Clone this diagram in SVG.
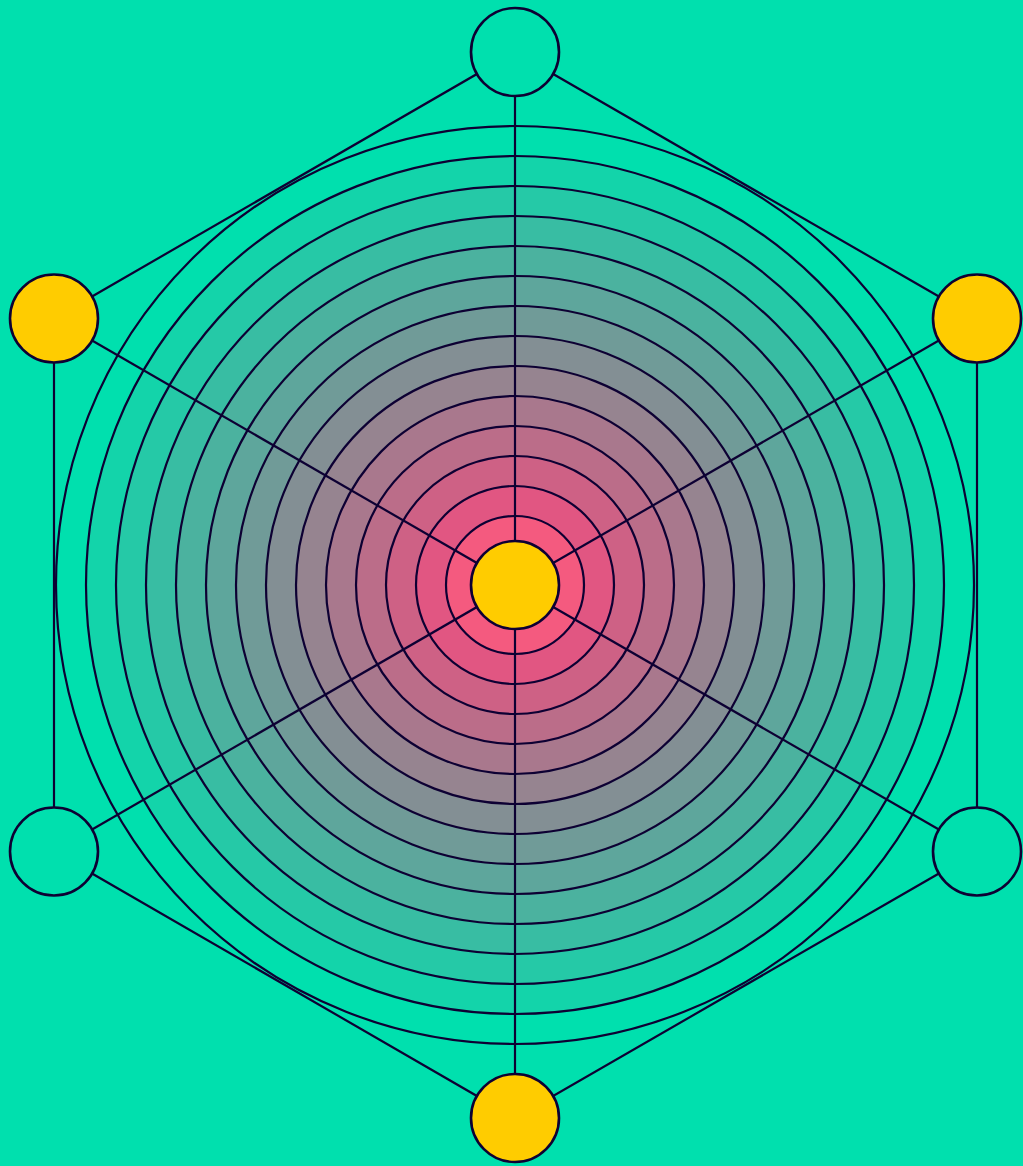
<svg xmlns="http://www.w3.org/2000/svg" width="1023" height="1166" viewBox="0 0 1023 1166">
<style>
.ring{stroke:#0d0033;stroke-width:2.2}
.edge{stroke:#0d0033;stroke-width:2.2;fill:none}
.node{stroke:#0d0033;stroke-width:2.6}
.y{fill:#ffcc00}
.g{fill:#00e0ae}
</style>
<rect width="1023" height="1166" fill="#00e0ae"/>
<g id="rings">
<circle class="ring" cx="515" cy="585" r="459" fill="#00e0ae"/>
<circle class="ring" cx="515" cy="585" r="429" fill="#13d4aa"/>
<circle class="ring" cx="515" cy="585" r="399" fill="#25c9a7"/>
<circle class="ring" cx="515" cy="585" r="369" fill="#38bda3"/>
<circle class="ring" cx="515" cy="585" r="339" fill="#4bb29f"/>
<circle class="ring" cx="515" cy="585" r="309" fill="#5ea69c"/>
<circle class="ring" cx="515" cy="585" r="279" fill="#709b98"/>
<circle class="ring" cx="515" cy="585" r="249" fill="#838f94"/>
<circle class="ring" cx="515" cy="585" r="219" fill="#968490"/>
<circle class="ring" cx="515" cy="585" r="189" fill="#a9788d"/>
<circle class="ring" cx="515" cy="585" r="159" fill="#bb6d89"/>
<circle class="ring" cx="515" cy="585" r="129" fill="#ce6185"/>
<circle class="ring" cx="515" cy="585" r="99" fill="#e15682"/>
<circle class="ring" cx="515" cy="585" r="69" fill="#f45a7f"/>
</g>
<g id="connectors">
<line class="edge" x1="515" y1="585" x2="515" y2="52"/>
<line class="edge" x1="515" y1="585" x2="54" y2="318.5"/>
<line class="edge" x1="515" y1="585" x2="977" y2="318.5"/>
<line class="edge" x1="515" y1="585" x2="54" y2="851.5"/>
<line class="edge" x1="515" y1="585" x2="977" y2="851.5"/>
<line class="edge" x1="515" y1="585" x2="515" y2="1118"/>
<polygon class="edge" points="515,52 977,318.5 977,851.5 515,1118 54,851.5 54,318.5"/>
</g>
<g id="node-center"><circle class="node y" cx="515" cy="585" r="44"/></g>
<g id="node-top"><circle class="node g" cx="515" cy="52" r="44"/></g>
<g id="node-upper-left"><circle class="node y" cx="54" cy="318.5" r="44"/></g>
<g id="node-upper-right"><circle class="node y" cx="977" cy="318.5" r="44"/></g>
<g id="node-lower-left"><circle class="node g" cx="54" cy="851.5" r="44"/></g>
<g id="node-lower-right"><circle class="node g" cx="977" cy="851.5" r="44"/></g>
<g id="node-bottom"><circle class="node y" cx="515" cy="1118" r="44"/></g>
</svg>
